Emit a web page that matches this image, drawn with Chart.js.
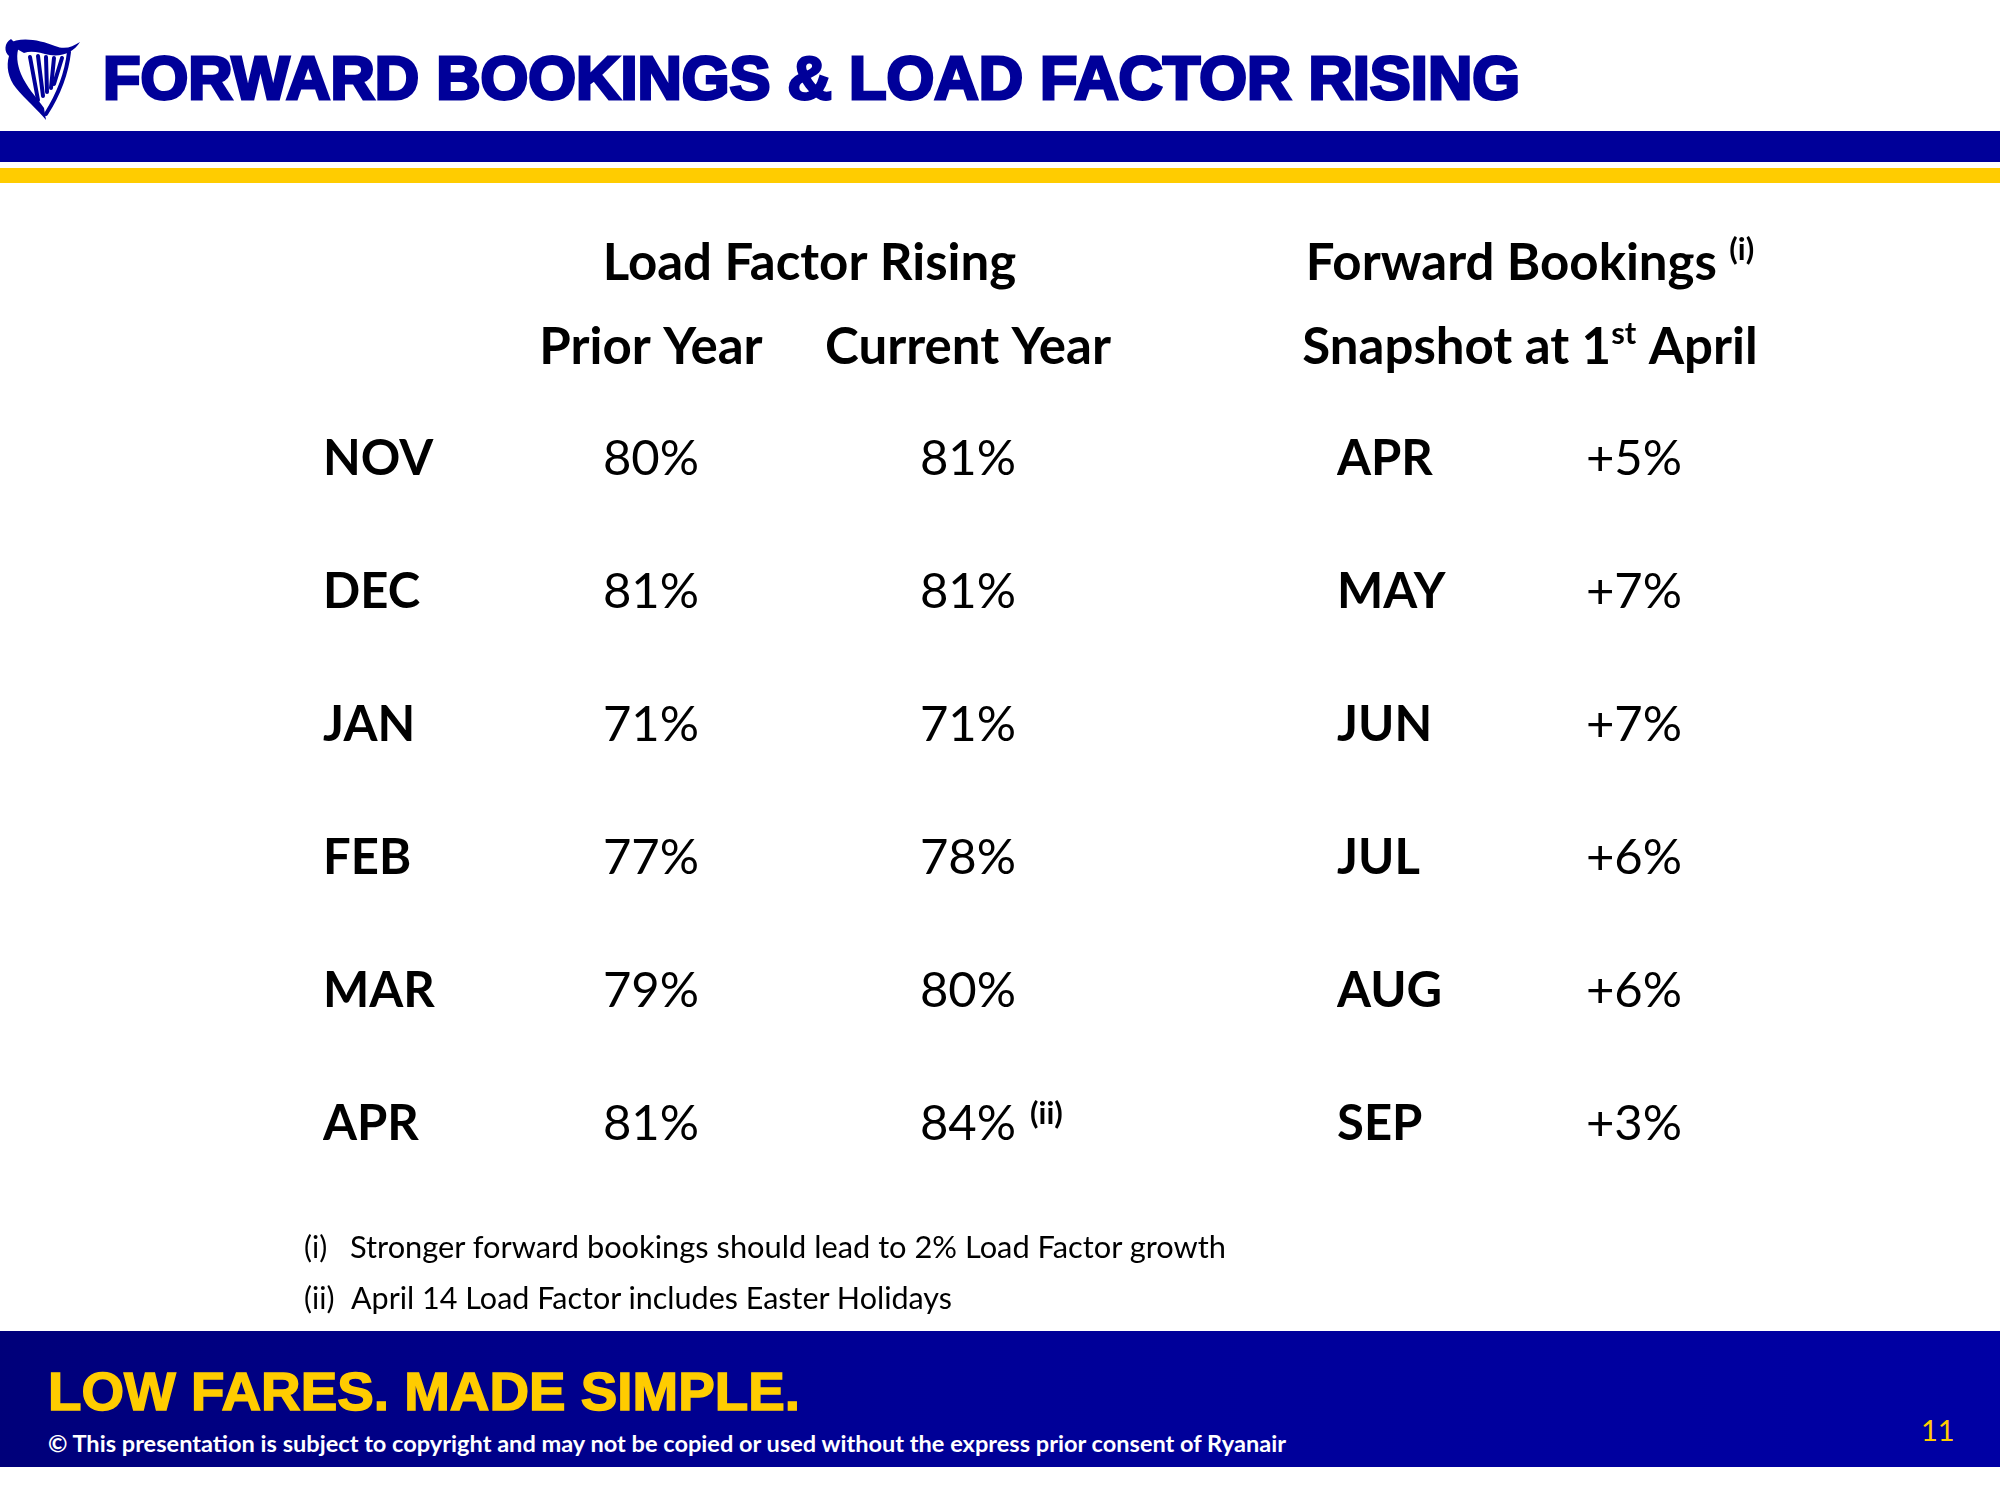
<!DOCTYPE html>
<html lang="en">
<head>
  <meta charset="UTF-8">
  <title>Forward Bookings &amp; Load Factor Rising</title>
  <script src="https://cdn.jsdelivr.net/npm/chart.js"></script>
  <style>
    :root {
      --navy: #000099;
      --yellow: #ffcc00;
    }

    body {
      margin: 0;
      background: #fff;
      overflow: hidden;
    }

    #slide {
      position: relative;
      width: 2000px;
      height: 1500px;
      background: #fff;
    }

    #slide canvas {
      position: absolute;
      left: 0;
      top: 0;
    }

    .fit {
      position: absolute;
      white-space: nowrap;
      transform-origin: left top;
    }

    #logo {
      position: absolute;
      left: 0;
      top: 0;
    }

    #title {
      left: 103px;
      top: 48px;
      font: bold 61px/61px "Liberation Sans", Arial, sans-serif;
      color: var(--navy);
      -webkit-text-stroke: 3px var(--navy);
    }

    .band {
      position: absolute;
      left: 0;
      width: 2000px;
    }

    .note {
      position: absolute;
      font: 30px/36px Lato, sans-serif;
      color: #000;
      white-space: nowrap;
    }

    #footer {
      position: absolute;
      left: 0;
      top: 1331px;
      width: 2000px;
      height: 136px;
      background: linear-gradient(to right, #00007a 0%, #000096 45%, #0000a4 100%);
    }

    #slogan {
      left: 48px;
      top: 33px;
      font: bold 54px/54px "Liberation Sans", Arial, sans-serif;
      color: var(--yellow);
      -webkit-text-stroke: 1.5px var(--yellow);
    }

    #copy {
      left: 48px;
      top: 100px;
      font: bold 22px/26px Lato, sans-serif;
      color: #fff;
    }

    #page {
      position: absolute;
      left: 1921px;
      top: 81px;
      font: 29px/35px Lato, sans-serif;
      color: var(--yellow);
    }
  </style>
</head>
<body>
  <div id="slide">
    <svg id="logo" width="90" height="125" viewBox="0 0 90 125">
      <g fill="#000099" stroke="none">
        <path d="M8 44 C 20 36, 40 40, 55 46 C 65 50, 72 47, 80 42 C 74 52, 62 57, 50 55 C 40 53, 32 50, 24 53 Z"/>
        <path d="M11 39 C 4 43, 4 52, 9 56 C 6 66, 8 78, 16 88 C 26 100, 38 110, 46 120 L 44 108 C 36 97, 26 86, 21 74 C 17 64, 16 54, 19 47 Z"/>
      </g>
      <g stroke="#000099" stroke-width="4" stroke-linecap="round" fill="none">
        <path d="M30 57 L 38 100"/>
        <path d="M38 56 L 43 96"/>
        <path d="M46 57 L 47 92"/>
        <path d="M54 58 L 51 88"/>
        <path d="M62 58 L 54 84"/>
        <path d="M69 52 C 67 70, 60 92, 46 114"/>
      </g>
    </svg>
    <div id="title" class="fit" data-w="1417">FORWARD BOOKINGS &amp; LOAD FACTOR RISING</div>
    <div class="band" style="top:131px;height:31px;background:#000099"></div>
    <div class="band" style="top:168px;height:15px;background:#ffcc00"></div>

    <canvas id="loadChart" width="2000" height="1500"></canvas>
    <canvas id="bookingChart" width="2000" height="1500"></canvas>

    <div class="note" style="left:304px;top:1228px">(i)</div>
    <div class="note fit" style="left:350px;top:1228px" data-w="876">Stronger forward bookings should lead to 2% Load Factor growth</div>
    <div class="note" style="left:304px;top:1279px">(ii)</div>
    <div class="note fit" style="left:351px;top:1279px" data-w="601">April 14 Load Factor includes Easter Holidays</div>

    <div id="footer">
      <div id="slogan" class="fit" data-w="752">LOW FARES. MADE SIMPLE.</div>
      <div id="copy" class="fit" data-w="1238">© This presentation is subject to copyright and may not be copied or used without the express prior consent of Ryanair</div>
      <div id="page">11</div>
    </div>
  </div>

  <script>
    // table data
    const months = ['NOV', 'DEC', 'JAN', 'FEB', 'MAR', 'APR'];
    const loadColumns = ['Prior Year', 'Current Year'];
    const priorYear = [80, 81, 71, 77, 79, 81];
    const currentYear = [81, 81, 71, 78, 80, 84];
    const currentNotes = ['', '', '', '', '', '(ii)'];
    const bookingMonths = ['APR', 'MAY', 'JUN', 'JUL', 'AUG', 'SEP'];
    const bookingColumns = ['Forward Bookings'];
    const bookingGrowth = [5, 7, 7, 6, 6, 3];

    const BODY_FONT = '49px Lato, sans-serif';
    const HEAD_FONT = 'bold 51px Lato, sans-serif';
    const SUP_FONT = 'bold 31px Lato, sans-serif';

    // stretch html text to the widths on the slide
    document.querySelectorAll('.fit').forEach(function(el) {
      const s = Number(el.dataset.w) / el.getBoundingClientRect().width;
      el.style.transform = 'scaleX(' + s + ')';
    });

    function cells(column, rows, values, fmt) {
      return rows.map(function(r, i) {
        return { x: column, y: r, label: fmt(values[i]) };
      });
    }

    // writes the cell labels at each point the scales gave
    const cellText = {
      id: 'cellText',
      afterDatasetsDraw(chart) {
        const ctx = chart.ctx;
        chart.data.datasets.forEach(function(ds, di) {
          const meta = chart.getDatasetMeta(di);
          meta.data.forEach(function(pt, i) {
            const txt = ds.data[i].label;
            ctx.save();
            ctx.fillStyle = '#000';
            ctx.font = BODY_FONT;
            ctx.textAlign = 'center';
            ctx.textBaseline = 'middle';
            ctx.fillText(txt, pt.x, pt.y);
            const note = ds.notes ? ds.notes[i] : '';
            if (note) {
              const w = ctx.measureText(txt).width;
              ctx.font = SUP_FONT;
              ctx.textAlign = 'left';
              ctx.fillText(note, pt.x + w / 2 + 14, pt.y - 10);
            }
            ctx.restore();
          });
        });
      }
    };

    // header lines with superscripts, above the chart area
    function drawLine(ctx, segs, cx, y) {
      const widths = segs.map(function(s) {
        ctx.font = s.sup ? SUP_FONT : HEAD_FONT;
        return ctx.measureText(s.t).width;
      });
      let x = cx - widths.reduce(function(a, b) { return a + b; }, 0) / 2;
      segs.forEach(function(s, i) {
        ctx.font = s.sup ? SUP_FONT : HEAD_FONT;
        ctx.fillText(s.t, x, s.sup ? y - 20 : y);
        x += widths[i];
      });
    }

    const tableHeads = {
      id: 'tableHeads',
      afterDraw(chart, args, opts) {
        const ctx = chart.ctx;
        const area = chart.chartArea;
        const xs = chart.scales.x;
        ctx.save();
        ctx.fillStyle = '#000';
        ctx.textAlign = 'left';
        ctx.textBaseline = 'alphabetic';
        const cx = opts.spanAxis ? (chart.scales.y.left + area.right) / 2 : (area.left + area.right) / 2;
        (opts.lines || []).forEach(function(line) {
          drawLine(ctx, line.segs, cx, area.top + line.dy);
        });
        if (opts.columnHeads) {
          ctx.font = HEAD_FONT;
          ctx.textAlign = 'center';
          xs.getLabels().forEach(function(lbl, i) {
            ctx.fillText(lbl, xs.getPixelForTick(i), area.top + opts.columnDy);
          });
        }
        ctx.restore();
      }
    };

    function tableOptions(padding, axisWidth, heads) {
      return {
        responsive: false,
        animation: false,
        devicePixelRatio: 1,
        events: [],
        layout: { padding: padding },
        scales: {
          x: {
            type: 'category',
            offset: true,
            display: false
          },
          y: {
            type: 'category',
            offset: true,
            grid: { display: false },
            border: { display: false },
            ticks: {
              crossAlign: 'far',
              padding: 0,
              color: '#000',
              font: { family: 'Lato', weight: 'bold', size: 49 }
            },
            afterFit: function(scale) { scale.width = axisWidth; }
          }
        },
        plugins: {
          legend: { display: false },
          tooltip: { enabled: false },
          tableHeads: heads
        }
      };
    }

    new Chart(document.getElementById('loadChart'), {
      type: 'line',
      data: {
        datasets: [
          {
            label: loadColumns[0],
            data: cells(loadColumns[0], months, priorYear, function(v) { return v + '%'; }),
            showLine: false,
            pointRadius: 0
          },
          {
            label: loadColumns[1],
            data: cells(loadColumns[1], months, currentYear, function(v) { return v + '%'; }),
            notes: currentNotes,
            showLine: false,
            pointRadius: 0
          }
        ]
      },
      options: (function() {
        const o = tableOptions({ left: 323, right: 873.5, top: 392.5, bottom: 309.5 }, 169.5, {
          lines: [{ dy: -112.5, segs: [{ t: 'Load Factor Rising' }] }],
          columnHeads: true,
          columnDy: -28.5
        });
        o.scales.x.labels = loadColumns;
        o.scales.y.labels = months;
        return o;
      })(),
      plugins: [cellText, tableHeads]
    });

    new Chart(document.getElementById('bookingChart'), {
      type: 'line',
      data: {
        datasets: [
          {
            label: bookingColumns[0],
            data: cells(bookingColumns[0], bookingMonths, bookingGrowth, function(v) { return '+' + v + '%'; }),
            showLine: false,
            pointRadius: 0
          }
        ]
      },
      options: (function() {
        const o = tableOptions({ left: 1337, right: 277, top: 392.5, bottom: 309.5 }, 208, {
          spanAxis: true,
          lines: [
            { dy: -112.5, segs: [{ t: 'Forward Bookings ' }, { t: '(i)', sup: true }] },
            { dy: -28.5, segs: [{ t: 'Snapshot at 1' }, { t: 'st', sup: true }, { t: ' April' }] }
          ]
        });
        o.scales.x.labels = bookingColumns;
        o.scales.y.labels = bookingMonths;
        return o;
      })(),
      plugins: [cellText, tableHeads]
    });
  </script>
</body>
</html>
